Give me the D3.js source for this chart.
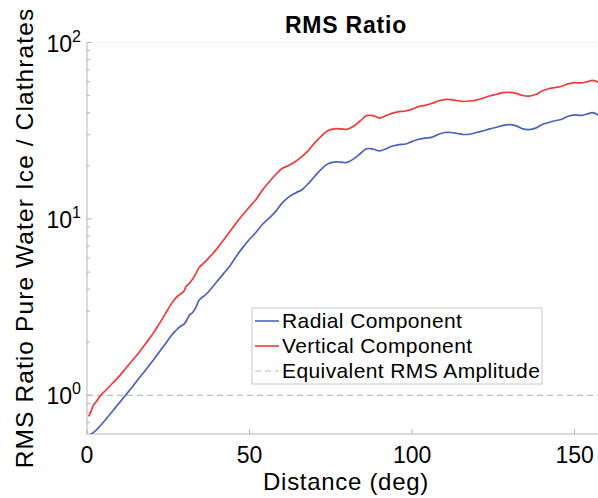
<!DOCTYPE html>
<html>
<head>
<meta charset="utf-8">
<script src="https://cdn.jsdelivr.net/npm/d3@7"></script>
<style>
  body { margin: 0; background: #fff; }
  svg { font-family: "Liberation Sans", Arial, Helvetica, sans-serif; }
</style>
</head>
<body>
<svg id="chart" width="598" height="498"></svg>
<script>
"use strict";

// distance (deg) and RMS ratio
const distance = [0.5, 1, 2, 3, 4, 6, 8, 10, 12, 14, 16, 18, 20, 22, 24, 26, 27, 28, 29, 29.8,
  30.5, 31.5, 32.5, 33.5, 34.5, 35.5, 36.5, 38, 40, 42, 44, 46, 48, 50, 52, 54, 56, 58, 60,
  62, 64, 66, 68, 70, 72, 74, 76, 78, 80, 82, 84, 86, 88, 90, 92, 94, 96, 98, 100, 102, 104,
  106, 108, 110, 112, 114, 116, 118, 120, 122, 124, 126, 128, 130, 132, 134, 136, 138, 140,
  142, 144, 146, 148, 150, 152, 154, 155.5, 157.5];

const radial = [0.596, 0.60, 0.617, 0.64, 0.67, 0.74, 0.82, 0.91, 1.01, 1.12, 1.25, 1.39, 1.55,
  1.74, 1.95, 2.19, 2.30, 2.40, 2.48, 2.53, 2.63, 2.85, 2.95, 3.16, 3.47, 3.60, 3.72, 3.98,
  4.42, 4.90, 5.43, 6.17, 6.92, 7.67, 8.41, 9.33, 10.1, 11.0, 12.3, 13.3, 14.0, 14.6, 15.8,
  17.4, 19.1, 20.5, 21.0, 21.0, 20.9, 21.9, 23.4, 25.0, 24.9, 24.3, 25.0, 25.9, 26.4, 26.6,
  27.5, 28.3, 28.7, 29.0, 30.1, 30.9, 30.9, 30.5, 30.1, 30.3, 31.0, 31.6, 32.4, 33.1, 33.9,
  34.2, 33.7, 32.4, 32.1, 32.7, 34.3, 35.2, 36.0, 36.7, 38.2, 38.9, 38.6, 39.4, 40.0, 38.6];

const vertical = [0.76, 0.79, 0.88, 0.93, 0.99, 1.08, 1.18, 1.29, 1.43, 1.58, 1.75, 1.96, 2.20,
  2.51, 2.88, 3.31, 3.51, 3.67, 3.78, 3.89, 4.15, 4.32, 4.57, 4.90, 5.31, 5.53, 5.75, 6.17,
  6.79, 7.59, 8.51, 9.55, 10.6, 11.7, 12.9, 14.6, 16.2, 17.8, 19.3, 20.1, 21.1, 22.5, 24.3,
  26.9, 29.4, 31.6, 32.4, 32.4, 32.2, 33.5, 35.9, 38.5, 38.5, 37.3, 38.5, 39.8, 40.6, 40.9,
  41.9, 43.3, 44.0, 45.1, 46.6, 47.5, 47.4, 46.8, 46.3, 46.6, 47.3, 48.5, 49.9, 50.9, 52.0,
  52.2, 51.5, 50.1, 49.7, 50.7, 53.1, 54.7, 55.6, 56.5, 58.3, 59.2, 59.0, 60.0, 61.0, 59.4];

const xTicks = [0, 50, 100, 150];
const yDecades = [0, 1, 2];
const seriesNames = ["Radial Component", "Vertical Component", "Equivalent RMS Amplitude"];
const seriesColors = ["#4c62bf", "#f23a3a", "#bdbdbd"];

const svg = d3.select("svg#chart");
const plot = { left: 87, right: 599, top: 42.5, bottom: 434 };

const x = d3.scaleLinear().domain([0, 157.5]).range([plot.left, plot.right]);
const y = d3.scaleLog().domain([0.604, 100]).range([plot.bottom, plot.top]);

/* clip for the curves */
svg.append("clipPath").attr("id", "clip")
   .append("rect")
   .attr("x", plot.left).attr("y", plot.top)
   .attr("width", plot.right - plot.left).attr("height", plot.bottom - plot.top);

/* faint top border */
svg.append("line")
   .attr("x1", plot.left).attr("x2", plot.right)
   .attr("y1", plot.top).attr("y2", plot.top)
   .attr("stroke", "#f2f2f2");

/* y axis with log minor ticks */
let minor = [];
for (let dec of [-1, 0, 1]) {
  for (let m = 2; m <= 9; m++) {
    let v = m * Math.pow(10, dec);
    if (v >= y.domain()[0] && v <= 100) minor.push(v);
  }
}
let yAxis = svg.append("g").attr("transform", `translate(${plot.left},0)`);
yAxis.append("line")
     .attr("x1", 0).attr("x2", 0)
     .attr("y1", plot.top).attr("y2", plot.bottom)
     .attr("stroke", "#b5b5b5");
yAxis.selectAll("line.minor")
     .data(minor).enter().append("line")
     .attr("class", "minor")
     .attr("x1", 0).attr("x2", 3)
     .attr("y1", d => y(d)).attr("y2", d => y(d))
     .attr("stroke", "#b5b5b5");
yAxis.selectAll("line.major")
     .data(yDecades).enter().append("line")
     .attr("class", "major")
     .attr("x1", 0).attr("x2", 5)
     .attr("y1", d => y(Math.pow(10, d))).attr("y2", d => y(Math.pow(10, d)))
     .attr("stroke", "#b5b5b5");
let yLab = yAxis.selectAll("text.ylab")
     .data(yDecades).enter().append("text")
     .attr("class", "ylab")
     .attr("x", -6)
     .attr("y", d => y(Math.pow(10, d)) + 9)
     .attr("text-anchor", "end")
     .style("font-size", "23px");
yLab.append("tspan").text("10");
yLab.append("tspan").attr("dy", -10).style("font-size", "16px").text(d => d);

/* x axis */
let xAxis = svg.append("g").attr("transform", `translate(0,${plot.bottom})`);
xAxis.append("line")
     .attr("x1", plot.left).attr("x2", plot.right)
     .attr("stroke", "#b5b5b5");
xAxis.selectAll("line.tick")
     .data(xTicks).enter().append("line")
     .attr("class", "tick")
     .attr("x1", d => x(d)).attr("x2", d => x(d))
     .attr("y1", 0).attr("y2", -5)
     .attr("stroke", "#b5b5b5");
xAxis.selectAll("text")
     .data(xTicks).enter().append("text")
     .attr("x", d => x(d))
     .attr("y", 29)
     .attr("text-anchor", "middle")
     .style("font-size", "23px")
     .text(d => d);

/* reference line at 1 */
svg.append("line")
   .attr("x1", plot.left).attr("x2", plot.right)
   .attr("y1", y(1)).attr("y2", y(1))
   .attr("stroke", seriesColors[2])
   .attr("stroke-width", 1.2)
   .attr("stroke-dasharray", "6,4");

/* curves */
let line = d3.line()
  .x(d => x(d[0]))
  .y(d => y(d[1]))
  .curve(d3.curveCatmullRom);

[radial, vertical].forEach((vals, i) => {
  svg.append("path")
     .datum(distance.map((d, j) => [d, vals[j]]))
     .attr("clip-path", "url(#clip)")
     .attr("fill", "none")
     .attr("stroke", seriesColors[i])
     .attr("stroke-width", 1.7)
     .attr("d", line);
});

/* title and labels */
svg.append("text")
   .attr("x", 346).attr("y", 33)
   .attr("text-anchor", "middle")
   .style("font-size", "23px").style("font-weight", "bold")
   .style("letter-spacing", "0.8px")
   .text("RMS Ratio");
svg.append("text")
   .attr("x", 346).attr("y", 490)
   .attr("text-anchor", "middle")
   .style("font-size", "24px")
   .style("letter-spacing", "0.7px")
   .text("Distance (deg)");
svg.append("text")
   .attr("transform", "translate(33,238) rotate(-90)")
   .attr("text-anchor", "middle")
   .style("font-size", "24.5px")
   .style("letter-spacing", "1.1px")
   .text("RMS Ratio Pure Water Ice / Clathrates");

/* legend */
let legend = svg.append("g").attr("transform", "translate(252,308)");
legend.append("rect")
      .attr("width", 290).attr("height", 76)
      .attr("fill", "#fff").attr("stroke", "#c8c8c8");
seriesNames.forEach((name, i) => {
  let ly = 13 + i * 25;
  legend.append("line")
        .attr("x1", 3).attr("x2", 27)
        .attr("y1", ly).attr("y2", ly)
        .attr("stroke", seriesColors[i])
        .attr("stroke-width", i == 2 ? 1.2 : 1.6)
        .attr("stroke-dasharray", i == 2 ? "6,4" : null);
  legend.append("text")
        .attr("x", 30).attr("y", ly + 7)
        .style("font-size", "21px")
        .style("letter-spacing", "0.4px")
        .text(name);
});
</script>
</body>
</html>
